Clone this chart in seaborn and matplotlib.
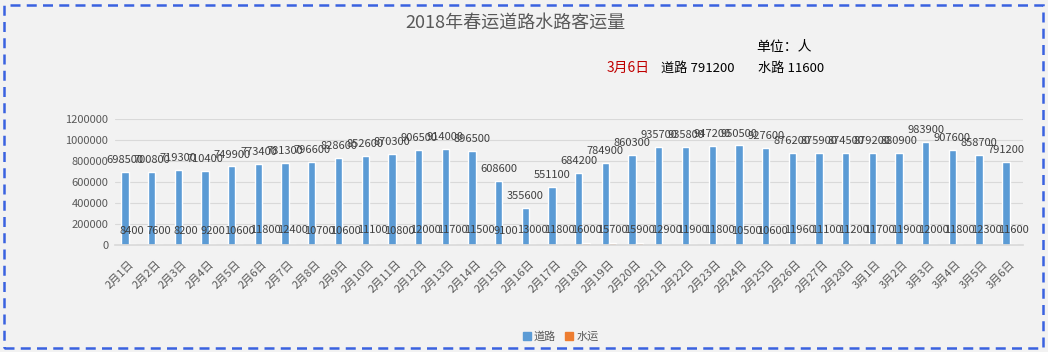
import matplotlib
matplotlib.use("Agg")
import matplotlib.pyplot as plt
import seaborn as sns
import pandas as pd
from matplotlib.patches import Rectangle

dates = [f"2月{i}日" for i in range(1, 29)] + [f"3月{i}日" for i in range(1, 7)]
road = [698500, 700800, 719300, 710400, 749900, 773400, 781300, 796600, 828600,
        852600, 870300, 906500, 914000, 896500, 608600, 355600, 551100, 684200,
        784900, 860300, 935700, 935800, 947200, 950500, 927600, 876200, 875900,
        874500, 879200, 880900, 983900, 907600, 858700, 791200]
water = [8400, 7600, 8200, 9200, 10600, 11800, 12400, 10700, 10600, 11100, 10800,
         12000, 11700, 11500, 9100, 13000, 11800, 16000, 15700, 15900, 12900,
         11900, 11800, 10500, 10600, 11960, 11100, 11200, 11700, 11900, 12000,
         11800, 12300, 11600]
series_names = ["道路", "水运"]
yticks = [0, 200000, 400000, 600000, 800000, 1000000, 1200000]

df = pd.DataFrame({
    "date": dates * 2,
    "value": road + water,
    "type": [series_names[0]] * len(dates) + [series_names[1]] * len(dates),
})

sns.set_theme(style="white")
plt.rcParams["font.family"] = ["Noto Sans CJK SC", "DejaVu Sans"]

bg = "#f2f2f2"
fig = plt.figure(figsize=(10.48, 3.52), dpi=100, facecolor=bg)
ax = fig.add_axes([0.110, 0.304, 0.866, 0.357])
ax.set_facecolor(bg)

sns.barplot(data=df, x="date", y="value", hue="type",
            palette=["#5b9bd5", "#ed7d31"], width=0.55, ax=ax,
            saturation=1, legend=False)

for i, cont in enumerate(ax.containers):
    ax.bar_label(cont, fmt="%d", padding=5 if i == 0 else 6, fontsize=8, color="#404040")

ax.set_ylim(0, 1200000)
ax.set_yticks(yticks)
ax.set_yticklabels([str(v) for v in yticks], fontsize=8, color="#595959")
ax.yaxis.grid(True, color="#d9d9d9", linewidth=0.8)
ax.set_axisbelow(True)
ax.set_xlabel("")
ax.set_ylabel("")
ax.tick_params(axis="y", length=0, pad=5)
ax.tick_params(axis="x", length=0, pad=10)
plt.setp(ax.get_xticklabels(), rotation=45, ha="right", rotation_mode="anchor",
         fontsize=8, color="#595959")
for s in ["top", "right", "left"]:
    ax.spines[s].set_visible(False)
ax.spines["bottom"].set_color("#d9d9d9")

# legend
handles = [Rectangle((0, 0), 1, 1, color=c) for c in ["#5b9bd5", "#ed7d31"]]
fig.legend(handles, series_names, loc="center", bbox_to_anchor=(0.535, 0.043),
           ncol=2, frameon=False, fontsize=8, handlelength=0.7, handleheight=0.7,
           handletextpad=0.3, columnspacing=0.8, labelcolor="#595959")

# title and annotations
fig.text(0.492, 0.935, "2018年春运道路水路客运量", ha="center", va="center",
         fontsize=13, color="#595959")
fig.text(0.722, 0.866, "单位：人", ha="left", va="center", fontsize=10, color="#000000")
fig.text(0.579, 0.806, "3月6日", ha="left", va="center", fontsize=10, color="#c00000")
fig.text(0.631, 0.806, f"道路 {road[-1]}", ha="left", va="center", fontsize=9.5, color="#000000")
fig.text(0.723, 0.806, f"水路 {water[-1]}", ha="left", va="center", fontsize=9.5, color="#000000")

# dashed border
border = Rectangle((4 / 1048, 4 / 352), 1 - 9 / 1048, 1 - 9 / 352, transform=fig.transFigure,
                   fill=False, edgecolor="#3a62e0", linewidth=1.8, linestyle=(0, (4, 2.5)))
fig.patches.append(border)

fig.savefig("out.png", dpi=100, facecolor=bg)
